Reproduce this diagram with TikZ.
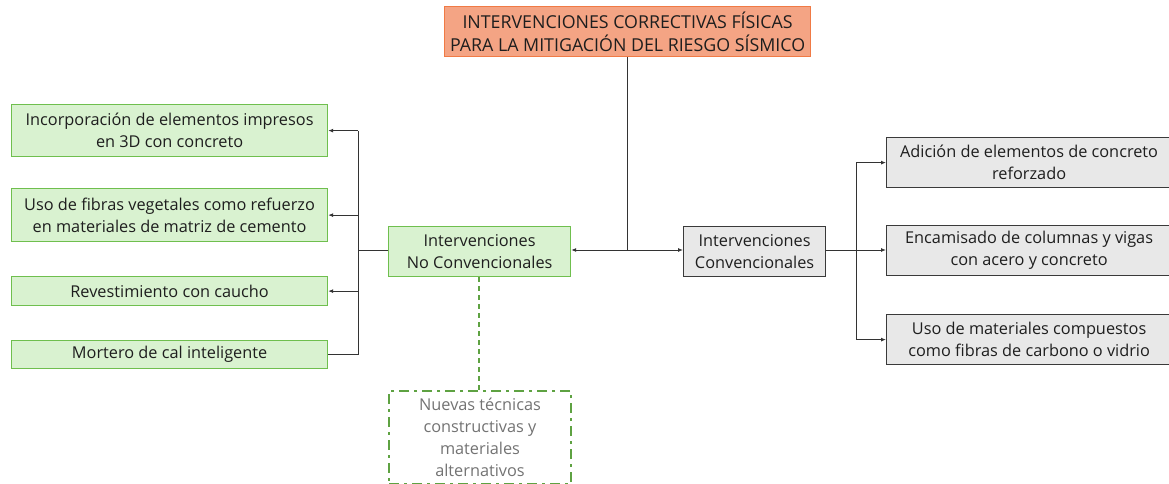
\documentclass[tikz,border=0pt]{standalone}
\usepackage{fontspec}
\setmainfont{Open Sans}
\usetikzlibrary{arrows.meta}
\definecolor{salmonfill}{HTML}{F4A484}
\definecolor{salmonline}{HTML}{F07A45}
\definecolor{greenfill}{HTML}{D9F2D0}
\definecolor{greenline}{HTML}{6FBF4E}
\definecolor{grayfill}{HTML}{E8E8E8}
\definecolor{grayline}{HTML}{3A3A3A}
\definecolor{txt}{HTML}{1E1E1E}
\definecolor{conn}{HTML}{333333}
\tikzset{
  box/.style={draw, line width=1.2pt, inner sep=0pt, align=center, text=txt,
    font=\fontsize{16.3}{22}\selectfont, anchor=north west},
  gbox/.style={box, fill=greenfill, draw=greenline},
  cbox/.style={box, fill=grayfill, draw=grayline},
  tbox/.style={box, fill=salmonfill, draw=salmonline, font=\fontsize{17.8}{23}\selectfont},
  dbox/.style={box, draw=greenline!85!black, line width=2pt, dash pattern=on 10pt off 5pt on 3pt off 5pt, text=black!55},
  con/.style={draw=conn, line width=0.9pt},
  arr/.style={con, -{Latex[length=5pt,width=4pt]}},
  dcon/.style={draw=greenline!85!black, line width=1.3pt, dash pattern=on 5pt off 4pt},
}
\begin{document}
\begin{tikzpicture}[x=1pt,y=-1pt]
\useasboundingbox (0,0) rectangle (1169,484);
% title
\node[tbox, minimum width=366pt, minimum height=50pt] (title) at (444,6)
  {INTERVENCIONES CORRECTIVAS FÍSICAS\\PARA LA MITIGACIÓN DEL RIESGO SÍSMICO};
% middle
\node[gbox, minimum width=182pt, minimum height=50pt] (nc) at (388,226)
  {Intervenciones\\No Convencionales};
\node[cbox, minimum width=142pt, minimum height=50pt] (cv) at (683,225.5)
  {Intervenciones\\Convencionales};
\node[dbox, minimum width=182pt, minimum height=93pt] (nt) at (388,390)
  {Nuevas técnicas\\constructivas y\\materiales\\alternativos};
% left
\node[gbox, minimum width=316pt, minimum height=52pt] (l1) at (11,104)
  {Incorporación de elementos impresos\\en 3D con concreto};
\node[gbox, minimum width=316pt, minimum height=53pt] (l2) at (11,188)
  {Uso de fibras vegetales como refuerzo\\en materiales de matriz de cemento};
\node[gbox, minimum width=316pt, minimum height=29pt] (l3) at (11,276)
  {Revestimiento con caucho};
\node[gbox, minimum width=316pt, minimum height=28pt] (l4) at (11,340)
  {Mortero de cal inteligente};
% right
\node[cbox, minimum width=285pt, minimum height=50pt] (r1) at (886,137)
  {Adición de elementos de concreto\\reforzado};
\node[cbox, minimum width=285pt, minimum height=50pt] (r2) at (886,225)
  {Encamisado de columnas y vigas\\con acero y concreto};
\node[cbox, minimum width=285pt, minimum height=50pt] (r3) at (886,314)
  {Uso de materiales compuestos\\como fibras de carbono o vidrio};
% coordinates
\coordinate (jt) at (627,250);
\coordinate (lt) at (358,250);
\coordinate (rt) at (856,250);
\coordinate (dx) at (479,0);
% connectors
\draw[con] (title.south -| jt) -- (jt);
\draw[arr] (jt) -- (nc.east |- jt);
\draw[arr] (jt) -- (cv.west |- jt);
\draw[con] (nc.west |- lt) -- (lt);
\draw[arr] (lt |- l1.east) -- (l1.east);
\draw[arr] (lt |- l2.east) -- (l2.east);
\draw[arr] (lt |- l3.east) -- (l3.east);
\draw[con] (l4.east) -- (lt |- l4.east) -- (lt |- l1.east);
\draw[con] (cv.east |- rt) -- (rt);
\draw[arr] (rt) -- (r2.west |- rt);
\draw[arr] (rt |- r1.west) -- (r1.west);
\draw[arr] (rt |- r3.west) -- (r3.west);
\draw[con] (rt |- r1.west) -- (rt |- r3.west);
\draw[dcon] (nc.south -| dx) -- (nt.north -| dx);
\end{tikzpicture}
\end{document}
